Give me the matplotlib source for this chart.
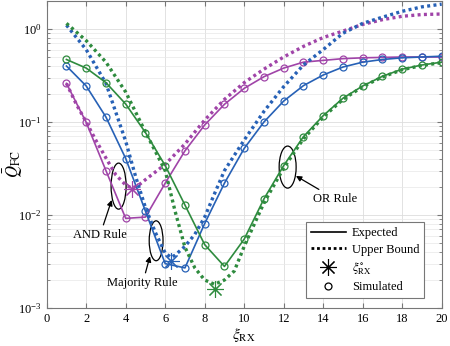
import matplotlib
matplotlib.use("Agg")
import matplotlib.pyplot as plt
from matplotlib.lines import Line2D
from matplotlib.patches import Ellipse
import numpy as np

plt.rcParams['font.family'] = ['Liberation Serif', 'DejaVu Serif']
plt.rcParams['mathtext.fontset'] = 'stix'
plt.rcParams['font.size'] = 9

# expected / simulated values (integer xi_RX)
xi = np.arange(1, 21)
and_exp = [0.26, 0.099, 0.030, 0.0092, 0.0095, 0.022, 0.049, 0.093, 0.155, 0.23,
           0.307, 0.38, 0.44, 0.46, 0.48, 0.49, 0.495, 0.5, 0.5, 0.5]
maj_exp = [0.40, 0.244, 0.113, 0.0405, 0.011, 0.0030, 0.0027, 0.0081, 0.022, 0.052,
           0.10, 0.168, 0.246, 0.32, 0.39, 0.44, 0.47, 0.49, 0.50, 0.51]
or_exp = [0.47, 0.38, 0.265, 0.156, 0.077, 0.034, 0.0128, 0.0048, 0.0028, 0.0055,
          0.0149, 0.034, 0.0695, 0.117, 0.18, 0.244, 0.31, 0.37, 0.41, 0.44]

# upper bounds
and_ub_x = [1, 1.5, 2, 2.5, 3, 3.5, 4, 4.3, 4.6, 5, 6, 7, 8, 9, 10, 11, 12, 13, 14, 15, 16, 17, 18, 19, 20]
and_ub = [0.26, 0.155, 0.1, 0.063, 0.041, 0.027, 0.021, 0.0195, 0.0205, 0.024, 0.035, 0.058, 0.105,
          0.175, 0.265, 0.37, 0.5, 0.65, 0.81, 0.95, 1.12, 1.26, 1.37, 1.43, 1.45]
maj_ub_x = [1, 2, 3, 4, 4.5, 5, 5.5, 6, 6.3, 6.5, 7, 7.5, 8, 8.5, 9, 10, 11, 12, 13, 14, 15, 16, 17, 18, 19, 20]
maj_ub = [1.1, 0.6, 0.26, 0.062, 0.026, 0.012, 0.0065, 0.0039, 0.0035, 0.0037, 0.0046, 0.0062, 0.0095,
          0.017, 0.030, 0.064, 0.13, 0.24, 0.41, 0.6, 0.9, 1.15, 1.34, 1.55, 1.73, 1.85]
or_ub_x = [1, 2, 3, 4, 5, 6, 6.5, 7, 7.5, 8, 8.5, 9, 9.5, 10, 11, 12, 13, 14, 15, 16, 17, 18, 19, 20]
or_ub = [1.15, 0.75, 0.44, 0.21, 0.078, 0.030, 0.011, 0.0045, 0.0027, 0.0020, 0.0018, 0.0020, 0.0025,
         0.0046, 0.0135, 0.032, 0.066, 0.113, 0.175, 0.24, 0.305, 0.365, 0.405, 0.435]

# optimal xi_RX points
opt_x = [4.3, 6.3, 8.5]
opt_y = [0.019, 0.0032, 0.0016]

c_and = '#A044A8'
c_maj = '#2761B6'
c_or = '#2E8B3E'
colors = [c_and, c_maj, c_or]

fig = plt.figure(figsize=(4.5, 3.46), dpi=100)
ax = fig.add_axes([0.1038, 0.1098, 0.8777, 0.8873])

star = (8, 2, 0)
for ex, ubx, ub, c in zip([and_exp, maj_exp, or_exp], [and_ub_x, maj_ub_x, or_ub_x],
                          [and_ub, maj_ub, or_ub], colors):
    ax.plot(xi, ex, '-', color=c, lw=1.2)
    ax.plot(xi, ex, 'o', color=c, mfc='none', ms=5, mew=0.9)
    ax.plot(ubx, ub, color=c, lw=2.4, dashes=(0.9, 1.0))
for x, y, c in zip(opt_x, opt_y, colors):
    ax.plot(x, y, marker=star, color=c, ms=12, mew=0.8, ls='none')

ax.set_yscale('log')
ax.set_xlim(0, 20)
ax.set_ylim(1e-3, 2)
ax.set_xticks(np.arange(0, 21, 2))
ax.grid(True, which='major', color='#dddddd', lw=0.6)
ax.grid(True, which='minor', axis='y', color='#e8e8e8', lw=0.5)
ax.set_axisbelow(True)
ax.tick_params(which='both', direction='in', top=True, right=True, color='#777777')
ax.tick_params(which='major', length=3.5)
ax.tick_params(which='minor', length=2)
for s in ax.spines.values():
    s.set_color('#777777')

ax.set_xlabel(r'$\xi_{\mathrm{RX}}$', fontsize=11, labelpad=1)
ax.set_ylabel(r'$\bar{Q}_{\mathrm{FC}}$', fontsize=12)
ax.yaxis.set_label_coords(-0.055, 0.47)

# annotations
for cx, cy, w, h in [(0.182, 0.397, 0.038, 0.150), (0.277, 0.219, 0.035, 0.130), (0.610, 0.459, 0.043, 0.137)]:
    ax.add_patch(Ellipse((cx, cy), w, h, transform=ax.transAxes, fill=False, ec='black', lw=0.9))
arrow = dict(arrowstyle='-|>', color='black', lw=0.9, mutation_scale=8, shrinkA=1, shrinkB=0)
ax.annotate('AND Rule', xy=(3.29, 0.0145), xytext=(2.7, 0.0061), ha='center', va='center', arrowprops=arrow)
ax.annotate('Majority Rule', xy=(5.23, 0.0036), xytext=(4.86, 0.00186), ha='center', va='center', arrowprops=arrow)
ax.annotate('OR Rule', xy=(12.62, 0.0263), xytext=(14.6, 0.0149), ha='center', va='center', arrowprops=arrow)

handles = [Line2D([], [], color='black', lw=1.2),
           Line2D([], [], color='black', lw=2.0, dashes=(1.0, 1.0)),
           Line2D([], [], color='black', ls='none', marker=star, ms=12, mew=0.8),
           Line2D([], [], color='black', ls='none', marker='o', mfc='none', ms=5, mew=0.9)]
labels = ['Expected', 'Upper Bound', r'$\xi_{\mathrm{RX}}^{\circ}$', 'Simulated']
leg = ax.legend(handles, labels, loc='lower right', bbox_to_anchor=(0.956, 0.032), fancybox=False,
                framealpha=1, edgecolor='#777777', handlelength=2.8, handletextpad=0.5,
                borderpad=0.4, labelspacing=0.35, borderaxespad=0)
leg.get_frame().set_linewidth(0.8)

fig.savefig('out.png', dpi=100)
